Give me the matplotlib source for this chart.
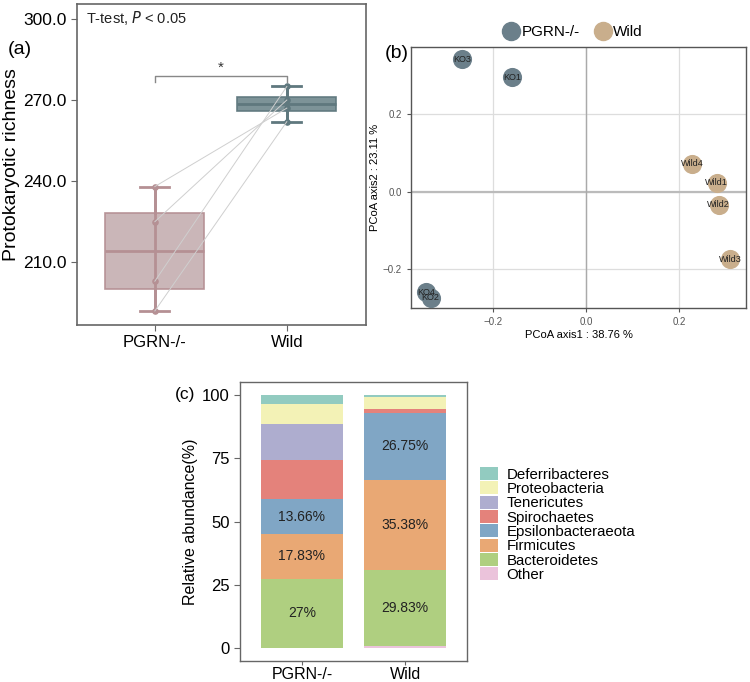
import matplotlib
matplotlib.use('Agg')
import matplotlib.pyplot as plt
from matplotlib.lines import Line2D
from matplotlib.patches import Patch
import numpy as np

plt.rcParams['font.family'] = ['Liberation Sans', 'DejaVu Sans']

# ---- data: panel (a) richness ----
groups = ['PGRN-/-', 'Wild']
richness_ko = [238, 225, 203, 192]
richness_wild = [267, 270, 275, 262]

# ---- data: panel (b) PCoA ----
pcoa_ko_labels = ['KO1', 'KO2', 'KO3', 'KO4']
pcoa_ko_x = [-0.160, -0.335, -0.268, -0.345]
pcoa_ko_y = [0.296, -0.273, 0.343, -0.259]
pcoa_wild_labels = ['Wild1', 'Wild2', 'Wild3', 'Wild4']
pcoa_wild_x = [0.280, 0.284, 0.309, 0.227]
pcoa_wild_y = [0.024, -0.034, -0.174, 0.073]

# ---- data: panel (c) composition (bottom -> top) ----
phyla = ['Other', 'Bacteroidetes', 'Firmicutes', 'Epsilonbacteraeota',
         'Spirochaetes', 'Tenericutes', 'Proteobacteria', 'Deferribacteres']
abund_ko = [0.3, 27.0, 17.83, 13.66, 15.6, 14.0, 7.9, 3.71]
abund_wild = [1.0, 29.83, 35.38, 26.75, 1.5, 0.0, 4.7, 0.84]
bar_labels_ko = {'Bacteroidetes': '27%', 'Firmicutes': '17.83%', 'Epsilonbacteraeota': '13.66%'}
bar_labels_wild = {'Bacteroidetes': '29.83%', 'Firmicutes': '35.38%', 'Epsilonbacteraeota': '26.75%'}

phylum_colors = {
    'Deferribacteres': '#92CBC0',
    'Proteobacteria': '#F3F2B6',
    'Tenericutes': '#AEADCF',
    'Spirochaetes': '#E4827B',
    'Epsilonbacteraeota': '#80A6C5',
    'Firmicutes': '#E9A874',
    'Bacteroidetes': '#AFCF80',
    'Other': '#EBC3DB',
}

W, H = 750, 682
fig = plt.figure(figsize=(W / 100, H / 100), dpi=100)


def px(l, t, r, b):
    return [l / W, 1 - b / H, (r - l) / W, (b - t) / H]


frame_col = '#666666'

# ================= (a) =================
ax1 = fig.add_axes(px(77, 4, 366, 325))
box_fill = ['#C8B2B4', '#768D93']
box_edge = ['#B59094', '#5F787E']
data_a = [richness_ko, richness_wild]
bp = ax1.boxplot(data_a, positions=[1, 2], widths=0.75, whis=(0, 100),
                 patch_artist=True, showfliers=False, zorder=2)
for i in range(2):
    bp['boxes'][i].set(facecolor=box_fill[i], edgecolor=box_edge[i], alpha=0.95, lw=1.2)
    bp['medians'][i].set(color=box_edge[i], lw=2)
    for j in (2 * i, 2 * i + 1):
        bp['whiskers'][j].set(color=box_edge[i], lw=2)
        bp['caps'][j].set(color=box_edge[i], lw=2, xdata=[i + 1 - 0.11, i + 1 + 0.11])
    ax1.vlines(i + 1, min(data_a[i]), max(data_a[i]), color=box_edge[i], lw=2, zorder=3)
    ax1.scatter([i + 1] * len(data_a[i]), data_a[i], s=14, color=box_edge[i], zorder=4)

for a, b in zip(richness_ko, richness_wild):
    ax1.plot([1, 2], [a, b], color='#CFCFCF', lw=0.7, zorder=5)

ax1.plot([1, 1, 2, 2], [276.8, 279, 279, 276.8], color='#888888', lw=1)
ax1.text(1.5, 282, '*', ha='center', va='center', fontsize=11, color='#333333')
ax1.text(0.03, 0.985, 'T-test, $\\it{P}$ < 0.05', transform=ax1.transAxes,
         ha='left', va='top', fontsize=10.5, color='#222222')

ax1.set_xlim(0.41, 2.6)
ax1.set_ylim(186.8, 305.5)
ax1.set_yticks([210, 240, 270, 300])
ax1.set_yticklabels(['%.1f' % v for v in [210, 240, 270, 300]])
ax1.set_xticks([1, 2])
ax1.set_xticklabels(groups)
ax1.tick_params(axis='y', labelsize=12.5, length=4, color=frame_col)
ax1.tick_params(axis='x', labelsize=12, length=4, color=frame_col)
ax1.set_ylabel('Protokaryotic richness', fontsize=14, labelpad=2)
for s in ax1.spines.values():
    s.set_color(frame_col)
    s.set_linewidth(1.2)
fig.text(8 / W, 1 - 50 / H, '(a)', fontsize=14, va='center', ha='left')

# ================= (b) =================
ax2 = fig.add_axes(px(411, 47, 746, 308))
col_ko = '#6B7F8A'
col_wild = '#C9AE8C'
ax2.set_xlim(-0.377, 0.343)
ax2.set_ylim(-0.30, 0.374)
ax2.set_xticks([-0.2, 0.0, 0.2])
ax2.set_yticks([-0.2, 0.0, 0.2])
ax2.grid(True, color='#DDDDDD', lw=0.9)
ax2.set_axisbelow(True)
ax2.axhline(0, color='#BBBBBB', lw=1.6, zorder=1)
ax2.axvline(0, color='#AAAAAA', lw=1.0, zorder=1)
ax2.scatter(pcoa_ko_x, pcoa_ko_y, s=190, color=col_ko, zorder=3, lw=0)
ax2.scatter(pcoa_wild_x, pcoa_wild_y, s=190, color=col_wild, zorder=3, lw=0)
for lab, x, y in zip(pcoa_ko_labels + pcoa_wild_labels,
                     pcoa_ko_x + pcoa_wild_x, pcoa_ko_y + pcoa_wild_y):
    ax2.text(x, y, lab, ha='center', va='center', fontsize=6.5, color='#222222', zorder=4)
ax2.tick_params(labelsize=7, colors='#555555', length=3)
ax2.set_xlabel('PCoA axis1 : 38.76 %', fontsize=8, labelpad=2)
ax2.set_ylabel('PCoA axis2 : 23.11 %', fontsize=8, labelpad=2)
for s in ax2.spines.values():
    s.set_color('#555555')
    s.set_linewidth(1.0)
leg_handles = [Line2D([], [], marker='o', ls='', markersize=13, color=col_ko, label=groups[0]),
               Line2D([], [], marker='o', ls='', markersize=13, color=col_wild, label=groups[1])]
fig.legend(handles=leg_handles, loc='center', bbox_to_anchor=(573 / W, 1 - 32 / H),
           ncol=2, frameon=False, fontsize=11, handlelength=1.0, handletextpad=0.2,
           columnspacing=1.0, borderaxespad=0)
fig.text(385 / W, 1 - 53 / H, '(b)', fontsize=14, va='center', ha='left')

# ================= (c) =================
ax3 = fig.add_axes(px(240, 382, 467, 661))
for xi, vals, labs in [(1, abund_ko, bar_labels_ko), (2, abund_wild, bar_labels_wild)]:
    bottom = 0
    for name, v in zip(phyla, vals):
        ax3.bar(xi, v, bottom=bottom, width=0.79, color=phylum_colors[name], lw=0)
        if name in labs:
            ax3.text(xi, bottom + v / 2, labs[name], ha='center', va='center',
                     fontsize=10, color='#222222')
        bottom += v
ax3.set_xlim(0.4, 2.6)
ax3.set_ylim(-5, 105)
ax3.set_yticks([0, 25, 50, 75, 100])
ax3.set_xticks([1, 2])
ax3.set_xticklabels(groups)
ax3.tick_params(axis='y', labelsize=12, length=4, color=frame_col)
ax3.tick_params(axis='x', labelsize=11.5, length=3, pad=1, color=frame_col)
ax3.set_ylabel('Relative abundance(%)', fontsize=11.5, labelpad=3)
for s in ax3.spines.values():
    s.set_color(frame_col)
    s.set_linewidth(1.0)
fig.text(175 / W, 1 - 395 / H, '(c)', fontsize=12.5, va='center', ha='left')

leg_c = [Patch(facecolor=phylum_colors[n], edgecolor='none', label=n) for n in phyla[::-1]]
fig.legend(handles=leg_c, loc='upper left', bbox_to_anchor=(474 / W, 1 - 461 / H),
           frameon=False, fontsize=10.8, handlelength=1.2, handleheight=0.95,
           labelspacing=-0.02, handletextpad=0.55, borderaxespad=0)

fig.savefig('out.png', dpi=100)
